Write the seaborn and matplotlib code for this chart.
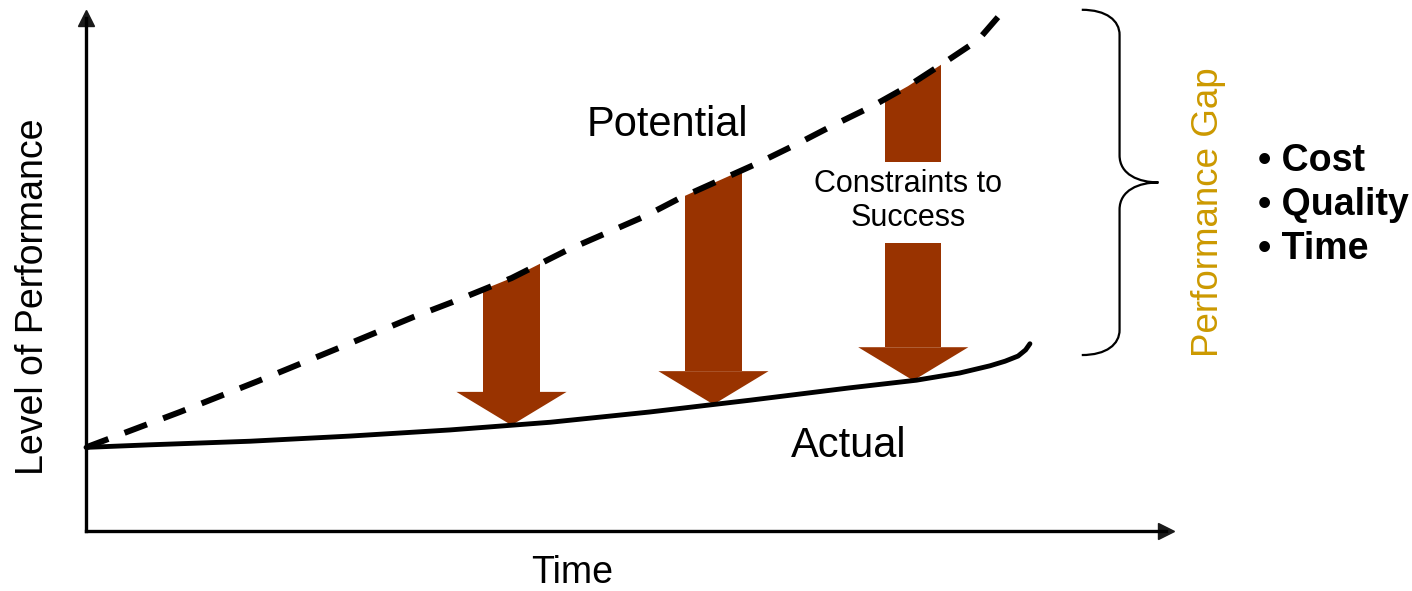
import numpy as np
import seaborn as sns
import matplotlib.pyplot as plt
from matplotlib.patches import Polygon, Rectangle, PathPatch
from matplotlib.path import Path


# --- Performance gap concept chart: potential vs actual over time ---

# values (time 0..100, level 0..100)
pot_time = [0, 8.7, 15.9, 23.2, 30.3, 33.9, 39.4, 44.6, 48.2, 51.8, 55.0,
            62.2, 65.8, 69.2, 72.8, 76.1, 79.4, 82.6, 84.7]
pot_level = [16.3, 23.2, 29.2, 35.5, 41.7, 44.6, 49.3, 54.8, 58.1, 61.4, 64.9,
             71.7, 75.4, 79.1, 82.8, 86.7, 91.2, 95.7, 100.8]

act_time = [0, 5.9, 15.2, 24.4, 33.7, 43.0, 52.2, 61.5, 70.7, 76.9, 80.9,
            83.7, 85.1, 86.3, 87.0, 87.4]
act_level = [16.3, 16.8, 17.5, 18.5, 19.7, 21.2, 23.2, 25.5, 27.9, 29.4, 30.8,
             32.2, 33.1, 34.1, 35.3, 36.5]

# constraint arrows (time where they sit)
arrow_time = [39.4, 58.1, 76.6]
gap_labels = ['• Cost', '• Quality', '• Time']

brown = '#993300'
gold = '#CC9900'

sns.set_theme(style='white')
plt.rcParams['font.family'] = ['Liberation Sans', 'DejaVu Sans']
plt.rcParams['text.color'] = 'black'

fig = plt.figure(figsize=(14.12, 5.91), dpi=100)
ax = fig.add_axes([86 / 1412, 60 / 591, 1080 / 1412, 513 / 591])
ax.set_xlim(0, 100)
ax.set_ylim(0, 100)
ax.set_xticks([])
ax.set_yticks([])
for s in ['top', 'right']:
    ax.spines[s].set_visible(False)
for s in ['left', 'bottom']:
    ax.spines[s].set_linewidth(2.4)
    ax.spines[s].set_color('black')
ax.plot(1, 0, '>k', ms=11.5, transform=ax.get_yaxis_transform(), clip_on=False)
ax.plot(0, 1, '^k', ms=11.5, transform=ax.get_xaxis_transform(), clip_on=False)

# region under the potential curve, used to cut the arrow shafts
under = Polygon(list(zip(pot_time, pot_level)) + [(pot_time[-1], 0), (0, 0)],
                closed=True, facecolor='none', edgecolor='none')
ax.add_patch(under)

shaft_w = 5.2
head_w = 10.2
head_len = 6.5
for i, t in enumerate(arrow_time):
    tip = np.interp(t, act_time, act_level)
    base = tip + head_len
    if i == 2:
        pieces = [(base, 56.1), (71.9, 110)]
    else:
        pieces = [(base, 110)]
    for y0, y1 in pieces:
        r = Rectangle((t - shaft_w / 2, y0), shaft_w, y1 - y0,
                      facecolor=brown, edgecolor='none', zorder=2)
        ax.add_patch(r)
        r.set_clip_path(under)
    ax.fill([t - head_w / 2, t + head_w / 2, t], [base, base, tip],
            color=brown, lw=0, zorder=2)

sns.lineplot(x=pot_time, y=pot_level, ax=ax, color='black', lw=4.3,
             linestyle=(0, (4, 2.9)), dash_capstyle='butt', clip_on=False, zorder=3)
sns.lineplot(x=act_time, y=act_level, ax=ax, color='black', lw=3.5,
             solid_capstyle='round', clip_on=False, zorder=3)

# curly brace spanning the gap at the end
top = pot_level[-1] + 0.8
bot = act_level[-1] - 2.2
mid = (top + bot) / 2
x0, x1, x2 = 92.2, 95.7, 99.3
verts = [(x0, top), (94.5, top), (x1, top - 2.1), (x1, top - 4.9),
         (x1, mid + 5.3),
         (x1, mid + 1.5), (97.5, mid), (x2, mid),
         (97.5, mid), (x1, mid - 1.5), (x1, mid - 5.3),
         (x1, bot + 4.9),
         (x1, bot + 2.1), (94.5, bot), (x0, bot)]
codes = [Path.MOVETO, Path.CURVE4, Path.CURVE4, Path.CURVE4,
         Path.LINETO,
         Path.CURVE4, Path.CURVE4, Path.CURVE4,
         Path.CURVE4, Path.CURVE4, Path.CURVE4,
         Path.LINETO,
         Path.CURVE4, Path.CURVE4, Path.CURVE4]
ax.add_patch(PathPatch(Path(verts, codes), facecolor='none', edgecolor='black',
                       lw=1.6, clip_on=False))

ax.text(53.8, 79.1, 'Potential', fontsize=30, ha='center', va='center')
ax.text(70.6, 16.5, 'Actual', fontsize=30, ha='center', va='center')
ax.text(76.1, 64.4, 'Constraints to\nSuccess', fontsize=22, ha='center',
        va='center', linespacing=1.18)
ax.text(103.9, 62.2, 'Performance Gap', fontsize=26.5, color=gold, rotation=90,
        ha='center', va='center', clip_on=False)
for k, lab in enumerate(gap_labels):
    ax.text(108.5, 72.1 - 8.6 * k, lab, fontsize=27, fontweight='bold',
            ha='left', va='center', clip_on=False)

# axis titles
ax.text(0.45, -0.081, 'Time', fontsize=27, ha='center', va='center',
        transform=ax.transAxes, clip_on=False)
ax.text(-0.049, 0.456, 'Level of Performance', fontsize=27, rotation=90,
        ha='center', va='center', transform=ax.transAxes, clip_on=False)

fig.savefig('out.png', dpi=100)
